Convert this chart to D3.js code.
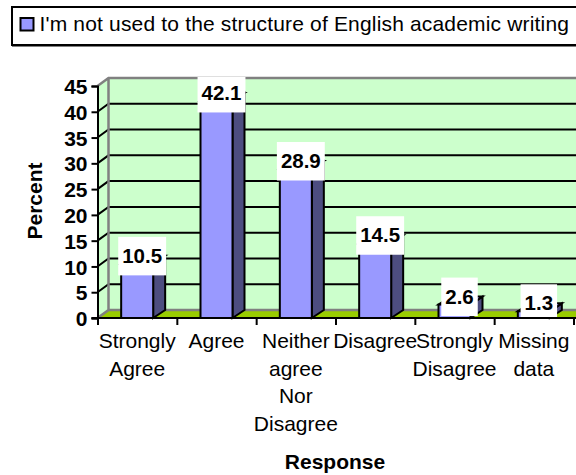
<!DOCTYPE html>
<html><head><meta charset="utf-8">
<script src="https://cdn.jsdelivr.net/npm/d3@7"></script>
<style>html,body{margin:0;padding:0;background:#fff}svg{display:block}text{font-family:"Liberation Sans",Arial,sans-serif;fill:#000}</style>
</head><body><svg id="c" width="576" height="475"></svg>
<script>
const categories=[["Strongly","Agree"],["Agree"],["Neither","agree","Nor","Disagree"],["Disagree"],["Strongly","Disagree"],["Missing","data"]];
const values=[10.5,42.1,28.9,14.5,2.6,1.3];
const yTicks=[0,5,10,15,20,25,30,35,40,45];
const legendLabel="I'm not used to the structure of English academic writing";
const xTitle="Response", yTitle="Percent";
const colors={wall:"#ccffcc",floor:"#99cc00",bar:"#9999ff",side:"#4d4d80",edge:"#808080",ink:"#000"};

const svg=d3.select("#c");
const W=576;
const x=d3.scaleBand().domain(d3.range(categories.length)).range([97.5,573.5]);
const y=d3.scaleLinear().domain([0,45]).range([318,86]);
const dx=11,dy=8;
const barW=32, barDx=12;
const left=x.range()[0], right=x.range()[1];

// walls
svg.append("rect").attr("x",left+dx).attr("y",y(45)-dy).attr("width",W-left-dx+5).attr("height",y(0)-y(45)).attr("fill",colors.wall);
svg.append("path").attr("d",`M${left},${y(0)}L${left},${y(45)}L${left+dx},${y(45)-dy}L${left+dx},${y(0)-dy}Z`).attr("fill",colors.wall);
svg.append("path").attr("d",`M${left},${y(0)}L${left+dx},${y(0)-dy}L${W+5},${y(0)-dy}L${W+5},${y(0)}Z`).attr("fill",colors.floor);

// gridlines
const grid=svg.append("g");
yTicks.filter(t=>t>0&&t<45).forEach(t=>{
  grid.append("path").attr("d",`M${left},${y(t)}L${left+dx},${y(t)-dy}L${W+5},${y(t)-dy}`).attr("fill","none").attr("stroke",colors.ink).attr("stroke-width",2);
});
// wall edges
svg.append("path").attr("d",`M${left},${y(45)}L${left+dx},${y(45)-dy}L${W+5},${y(45)-dy}M${left+dx},${y(45)-dy}L${left+dx},${y(0)-dy}L${left},${y(0)}M${left+dx},${y(0)-dy}L${W+5},${y(0)-dy}`)
  .attr("fill","none").attr("stroke",colors.edge).attr("stroke-width",2.5);

// bars
const bars=svg.append("g").selectAll("g").data(values).join("g");
const bx=(d,i)=>x(i)+x.bandwidth()/2-barW/2;
bars.append("path").attr("d",(d,i)=>{const a=bx(d,i)+barW;return `M${a},${y(0)}L${a},${y(d)}L${a+barDx},${y(d)-dy}L${a+barDx},${y(0)-dy}Z`})
  .attr("fill",colors.side).attr("stroke",colors.ink).attr("stroke-width",2);
bars.append("path").attr("d",(d,i)=>{const a=bx(d,i);return `M${a},${y(d)}L${a+barDx},${y(d)-dy}L${a+barW+barDx},${y(d)-dy}L${a+barW},${y(d)}Z`})
  .attr("fill",colors.bar).attr("stroke",colors.ink).attr("stroke-width",2);
bars.append("rect").attr("x",bx).attr("y",d=>y(d)).attr("width",barW).attr("height",d=>y(0)-y(d))
  .attr("fill",colors.bar).attr("stroke",colors.ink).attr("stroke-width",2);

// value labels
const labels=svg.append("g").selectAll("g").data(values).join("g");
const labelText=labels.append("text").attr("text-anchor","middle").attr("font-weight","bold").attr("font-size",20.5)
  .attr("x",(d,i)=>x(i)+x.bandwidth()/2+5).attr("y",d=>y(d)-1).text(d=>d.toFixed(1));
labelText.each(function(d){
  const w=this.getComputedTextLength()+8;
  const cx=+this.getAttribute("x");
  const t=Math.max(y(d)-27,y(45)-dy-1), b=Math.min(y(d)+11.5,y(0));
  d3.select(this.parentNode).insert("rect","text").attr("x",cx-w/2).attr("y",t).attr("width",w).attr("height",b-t).attr("fill","#fff");
});

// axes
const yAxis=d3.axisLeft(y).tickValues(yTicks).tickSize(6).tickPadding(4);
const gy=svg.append("g").attr("transform",`translate(${left},0)`).call(yAxis);
gy.selectAll("text").attr("font-size",21).attr("font-weight","bold").attr("font-family",null).style("font-family",'"Liberation Sans"').attr("dy","0.36em");
gy.selectAll("line,path").attr("stroke",colors.ink).attr("stroke-width",2);

const xAxis=d3.axisBottom(d3.scaleLinear().domain([0,categories.length]).range([left,right])).ticks(categories.length).tickSize(7).tickFormat("");
const gx=svg.append("g").attr("transform",`translate(0,${y(0)})`).call(xAxis);
gx.selectAll("line,path").attr("stroke",colors.ink).attr("stroke-width",2);
gx.select(".domain").attr("d",`M${left-6},0H${W+5}`);

// category labels
const cat=svg.append("g").selectAll("text").data(categories).join("text").attr("text-anchor","middle").attr("font-size",21);
cat.each(function(lines,i){
  d3.select(this).selectAll("tspan").data(lines).join("tspan")
    .attr("x",x(i)+x.bandwidth()/2).attr("y",(l,j)=>348+j*27.5).text(l=>l);
});

// titles
svg.append("text").attr("x",335).attr("y",469).attr("text-anchor","middle").attr("font-weight","bold").attr("font-size",21).text(xTitle);
svg.append("text").attr("transform","translate(42,201) rotate(-90)").attr("text-anchor","middle").attr("font-weight","bold").attr("font-size",21).text(yTitle);

// legend
svg.append("rect").attr("x",12).attr("y",7).attr("width",W).attr("height",38).attr("fill","#fff").attr("stroke",colors.ink).attr("stroke-width",2);
svg.append("path").attr("d",`M12,46.5H${W}`).attr("stroke",colors.edge).attr("stroke-width",1);
svg.append("rect").attr("x",20.5).attr("y",18).attr("width",13).attr("height",12.5).attr("fill",colors.bar).attr("stroke",colors.ink).attr("stroke-width",2);
svg.append("text").attr("x",39.5).attr("y",31).attr("font-size",21).attr("letter-spacing",0.17).text(legendLabel);
</script></body></html>
